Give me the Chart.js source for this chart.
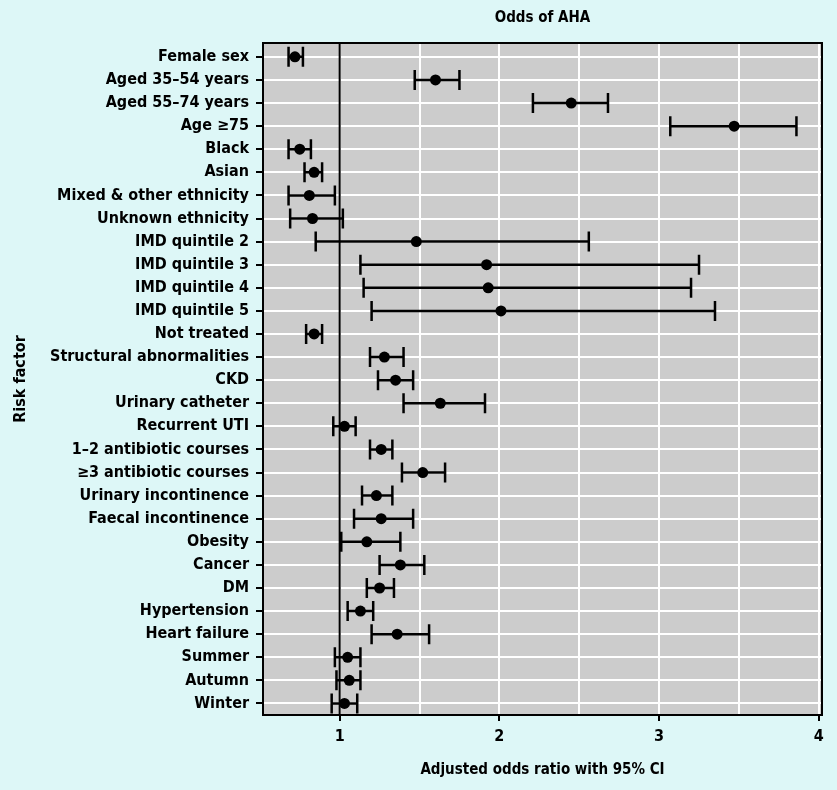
<!DOCTYPE html>
<html>
<head>
<meta charset="utf-8">
<script src="https://cdn.jsdelivr.net/npm/chart.js@4/dist/chart.umd.min.js"></script>
<style>
  html, body { margin: 0; padding: 0; background: #ddf7f7; }
  #wrap { width: 837px; height: 790px; }
</style>
</head>
<body>
<div id="wrap"><canvas id="c" width="837" height="790"></canvas></div>
<script>
const categories = [
  "Female sex", "Aged 35–54 years", "Aged 55–74 years", "Age ≥75", "Black", "Asian",
  "Mixed & other ethnicity", "Unknown ethnicity", "IMD quintile 2", "IMD quintile 3",
  "IMD quintile 4", "IMD quintile 5", "Not treated", "Structural abnormalities", "CKD",
  "Urinary catheter", "Recurrent UTI", "1–2 antibiotic courses", "≥3 antibiotic courses",
  "Urinary incontinence", "Faecal incontinence", "Obesity", "Cancer", "DM",
  "Hypertension", "Heart failure", "Summer", "Autumn", "Winter"
];
const oddsRatio = [0.72, 1.60, 2.45, 3.47, 0.75, 0.84, 0.81, 0.83, 1.48, 1.92, 1.93, 2.01, 0.84, 1.28, 1.35, 1.63, 1.03, 1.26, 1.52, 1.23, 1.26, 1.17, 1.38, 1.25, 1.13, 1.36, 1.05, 1.06, 1.03];
const ciLow     = [0.68, 1.47, 2.21, 3.07, 0.68, 0.78, 0.68, 0.69, 0.85, 1.13, 1.15, 1.20, 0.79, 1.19, 1.24, 1.40, 0.96, 1.19, 1.39, 1.14, 1.09, 1.01, 1.25, 1.17, 1.05, 1.20, 0.97, 0.98, 0.95];
const ciHigh    = [0.77, 1.75, 2.68, 3.86, 0.82, 0.89, 0.97, 1.02, 2.56, 3.25, 3.20, 3.35, 0.89, 1.40, 1.46, 1.91, 1.10, 1.33, 1.66, 1.33, 1.46, 1.38, 1.53, 1.34, 1.21, 1.56, 1.13, 1.13, 1.11];
const xGridValues = [1, 1.5, 2, 2.5, 3, 3.5, 4];
const xTickLabels = { 1: "1", 2: "2", 3: "3", 4: "4" };
const referenceValue = 1;

const FONT = "'DejaVu Sans Condensed', 'Liberation Sans Narrow', 'DejaVu Sans', sans-serif";
Chart.defaults.font.family = FONT;
Chart.defaults.font.size = 16;
Chart.defaults.font.weight = "bold";
Chart.defaults.color = "#000";

const forestPlugin = {
  id: "forest",
  beforeDraw(chart) {
    const { ctx, chartArea: a } = chart;
    ctx.save();
    ctx.fillStyle = "#ddf7f7";
    ctx.fillRect(0, 0, chart.width, chart.height);
    ctx.fillStyle = "#cccccc";
    ctx.fillRect(a.left, a.top, a.right - a.left, a.bottom - a.top);
    ctx.restore();
  },
  beforeDatasetsDraw(chart) {
    const { ctx, chartArea: a, scales } = chart;
    const xs = scales.x, ys = scales.y;
    ctx.save();
    ctx.strokeStyle = "#000";
    ctx.lineWidth = 2;
    const rx = xs.getPixelForValue(referenceValue);
    ctx.beginPath();
    ctx.moveTo(rx, a.top);
    ctx.lineTo(rx, a.bottom);
    ctx.stroke();
    ctx.strokeRect(a.left, a.top, a.right - a.left, a.bottom - a.top);
    ctx.lineWidth = 2.5;
    const cap = 10;
    categories.forEach((c, i) => {
      const y = ys.getPixelForValue(i);
      const x0 = xs.getPixelForValue(ciLow[i]);
      const x1 = xs.getPixelForValue(ciHigh[i]);
      ctx.beginPath();
      ctx.moveTo(x0, y); ctx.lineTo(x1, y);
      ctx.moveTo(x0, y - cap); ctx.lineTo(x0, y + cap);
      ctx.moveTo(x1, y - cap); ctx.lineTo(x1, y + cap);
      ctx.stroke();
    });
    ctx.restore();
  }
};

new Chart(document.getElementById("c"), {
  type: "scatter",
  data: {
    datasets: [{
      data: categories.map((c, i) => ({ x: oddsRatio[i], y: i })),
      backgroundColor: "#000",
      borderColor: "#000",
      borderWidth: 0,
      pointRadius: 5.5,
      pointHoverRadius: 5.5
    }]
  },
  options: {
    responsive: false,
    animation: false,
    events: [],
    layout: { padding: { left: 0, right: 15, top: 0, bottom: 0 } },
    plugins: { legend: { display: false }, tooltip: { enabled: false }, title: { display: false } },
    scales: {
      x: {
        type: "linear",
        position: "bottom",
        min: 0.52,
        max: 4.02,
        afterBuildTicks: s => { s.ticks = xGridValues.map(v => ({ value: v })); },
        afterFit: s => { s.height = 75; },
        ticks: {
          callback: v => (xTickLabels[v] !== undefined ? xTickLabels[v] : ""),
          padding: 6, maxRotation: 0, autoSkip: false, color: "#000"
        },
        grid: {
          color: "#ffffff", lineWidth: 2, tickLength: 6, tickWidth: 2,
          tickColor: ctx => (ctx.tick && Number.isInteger(ctx.tick.value) ? "#000" : "rgba(0,0,0,0)")
        },
        border: { display: true, color: "#000", width: 2 },
        title: { display: true, text: "Adjusted odds ratio with 95% CI", font: { size: 15 }, padding: { top: 0, bottom: 11 }, color: "#000" }
      },
      x2: {
        type: "linear",
        position: "top",
        display: true,
        afterFit: s => { s.height = 43; },
        ticks: { display: false },
        grid: { display: false, drawTicks: false },
        border: { display: false },
        title: { display: true, text: "Odds of AHA", font: { size: 15 }, padding: { top: 9, bottom: 0 }, color: "#000" }
      },
      y: {
        type: "linear",
        position: "left",
        reverse: true,
        min: -0.6,
        max: 28.5,
        afterBuildTicks: s => { s.ticks = categories.map((c, i) => ({ value: i })); },
        afterFit: s => { s.width = 263; },
        ticks: { callback: v => categories[v], autoSkip: false, padding: 7, color: "#000" },
        grid: { color: "#ffffff", lineWidth: 2, tickLength: 7, tickWidth: 2, tickColor: "#000" },
        border: { display: true, color: "#000", width: 2 },
        title: { display: true, text: "Risk factor", font: { size: 16 }, padding: { top: 11, bottom: 0 }, color: "#000" }
      }
    }
  },
  plugins: [forestPlugin]
});
</script>
</body>
</html>
